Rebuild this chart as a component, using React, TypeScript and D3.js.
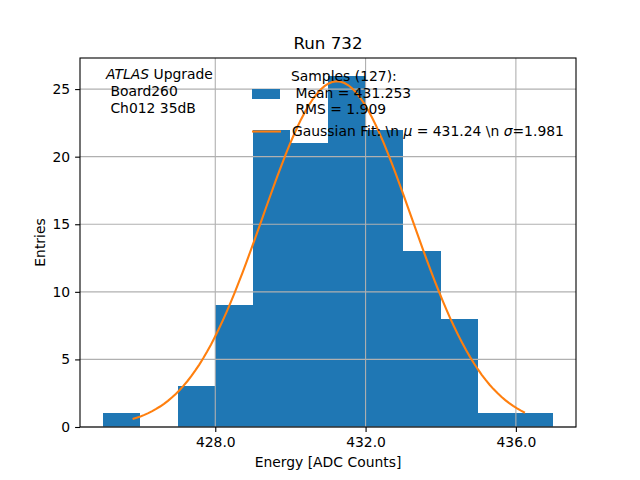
import React, { useEffect, useRef } from 'react';
import * as d3 from 'd3';

// histogram bins (lower edge, width 1) and counts
const binEdges = [425, 426, 427, 428, 429, 430, 431, 432, 433, 434, 435, 436, 437];
const binCounts = [1, 0, 3, 9, 22, 21, 26, 22, 13, 8, 1, 1];

const xTicks = [428, 432, 436];
const yTicks = [0, 5, 10, 15, 20, 25];

// gaussian fit parameters
const fitMu = 431.24;
const fitSigma = 1.981;
const fitRange = [425.8, 436.24];
const nSamples = 127;

const infoLines = ['Board260', 'Ch012 35dB'];
const legendLines = ['Samples (127):', ' Mean = 431.253', ' RMS = 1.909'];

const BLUE = '#1f77b4';
const ORANGE = '#ff7f0e';
const FONT = 'DejaVu Sans, sans-serif';

const App: React.FC = () => {
  const svgRef = useRef<SVGSVGElement>(null);

  useEffect(() => {
    if (!svgRef.current) return;
    const svg = d3.select(svgRef.current);
    svg.selectAll('*').remove();

    const width = 640;
    const height = 480;
    const margin = { top: 58, right: 64, bottom: 53, left: 80 };
    const x0 = margin.left, x1 = width - margin.right;
    const y0 = height - margin.bottom, y1 = margin.top;

    const lo = binEdges[0], hi = binEdges[binEdges.length - 1];
    const pad = (hi - lo) * 0.05;
    const x = d3.scaleLinear().domain([lo - pad, hi + pad]).range([x0, x1]);
    const yMax = d3.max(binCounts) || 0;
    const y = d3.scaleLinear().domain([0, yMax * 1.05]).range([y0, y1]);

    svg.append('rect').attr('width', width).attr('height', height).attr('fill', 'white');

    // bars
    svg.append('g')
      .selectAll('rect')
      .data(binCounts)
      .enter()
      .append('rect')
      .attr('x', (_, i) => x(binEdges[i]))
      .attr('y', d => y(d))
      .attr('width', (_, i) => x(binEdges[i + 1]) - x(binEdges[i]))
      .attr('height', d => y0 - y(d))
      .attr('fill', BLUE)
      .attr('shape-rendering', 'crispEdges');

    // grid on top of bars
    const grid = svg.append('g').attr('stroke', '#b0b0b0').attr('stroke-width', 1.1);
    xTicks.forEach(t => {
      grid.append('line').attr('x1', x(t)).attr('x2', x(t)).attr('y1', y0).attr('y2', y1);
    });
    yTicks.forEach(t => {
      grid.append('line').attr('x1', x0).attr('x2', x1).attr('y1', y(t)).attr('y2', y(t));
    });

    // gaussian fit curve
    const amp = nSamples * (binEdges[1] - binEdges[0]) / (Math.sqrt(2 * Math.PI) * fitSigma);
    const xs = d3.range(0, 101).map(i => fitRange[0] + (fitRange[1] - fitRange[0]) * i / 100);
    const line = d3.line<number>()
      .x(d => x(d))
      .y(d => y(amp * Math.exp(-0.5 * ((d - fitMu) / fitSigma) ** 2)));
    svg.append('path')
      .datum(xs)
      .attr('d', line)
      .attr('fill', 'none')
      .attr('stroke', ORANGE)
      .attr('stroke-width', 2.1);

    // frame
    svg.append('rect')
      .attr('x', x0).attr('y', y1)
      .attr('width', x1 - x0).attr('height', y0 - y1)
      .attr('fill', 'none').attr('stroke', 'black').attr('stroke-width', 1.1);

    // axes
    const xAxis = d3.axisBottom(x).tickValues(xTicks).tickFormat(d3.format('.1f')).tickSize(4.9).tickPadding(4.9);
    const yAxis = d3.axisLeft(y).tickValues(yTicks).tickFormat(d3.format('d')).tickSize(4.9).tickPadding(4.9);
    const gx = svg.append('g').attr('transform', `translate(0,${y0})`).call(xAxis);
    const gy = svg.append('g').attr('transform', `translate(${x0},0)`).call(yAxis);
    [gx, gy].forEach(g => {
      g.select('.domain').remove();
      g.selectAll('line').attr('stroke', 'black').attr('stroke-width', 1.1);
      g.selectAll('text').attr('font-family', FONT).attr('font-size', 13.9).attr('fill', 'black');
    });

    // labels
    svg.append('text')
      .attr('x', (x0 + x1) / 2).attr('y', 49)
      .attr('text-anchor', 'middle')
      .attr('font-family', FONT).attr('font-size', 16.7)
      .text('Run 732');
    svg.append('text')
      .attr('x', (x0 + x1) / 2).attr('y', 467)
      .attr('text-anchor', 'middle')
      .attr('font-family', FONT).attr('font-size', 13.9)
      .text('Energy [ADC Counts]');
    svg.append('text')
      .attr('transform', `translate(45,${(y0 + y1) / 2}) rotate(-90)`)
      .attr('text-anchor', 'middle')
      .attr('font-family', FONT).attr('font-size', 13.9)
      .text('Entries');

    // ATLAS info text
    const info = svg.append('text')
      .attr('font-family', FONT).attr('font-size', 13.9);
    const first = info.append('tspan').attr('x', 106).attr('y', 79);
    first.append('tspan').attr('font-style', 'italic').text('ATLAS');
    first.append('tspan').text(' Upgrade');
    infoLines.forEach((l, i) => {
      info.append('tspan').attr('x', 106).attr('y', 79 + 17 * (i + 1)).attr('xml:space', 'preserve').text(' ' + l);
    });

    // legend
    const leg = svg.append('g').attr('font-family', FONT).attr('font-size', 13.9);
    leg.append('rect').attr('x', 252).attr('y', 89).attr('width', 28).attr('height', 10).attr('fill', BLUE);
    const lt = leg.append('text').style('white-space', 'pre');
    legendLines.forEach((l, i) => {
      lt.append('tspan').attr('x', 291).attr('y', 81 + 16.5 * i).text(l);
    });
    leg.append('path').attr('d', 'M252,131.5H281')
      .style('stroke', ORANGE).style('stroke-width', '2.1px').style('fill', 'none');
    const gt = leg.append('text').attr('x', 292).attr('y', 136).style('white-space', 'pre');
    gt.append('tspan').text('Gaussian Fit: \\n ');
    gt.append('tspan').attr('font-style', 'italic').text('\u03bc');
    gt.append('tspan').text(' = 431.24 \\n ');
    gt.append('tspan').attr('font-style', 'italic').text('\u03c3');
    gt.append('tspan').text('=1.981');
  }, []);

  return (
    <svg
      ref={svgRef}
      width={640}
      height={480}
      viewBox="0 0 640 480"
      style={{ position: 'absolute', left: 0, top: 0 }}
    />
  );
};

export default App;
